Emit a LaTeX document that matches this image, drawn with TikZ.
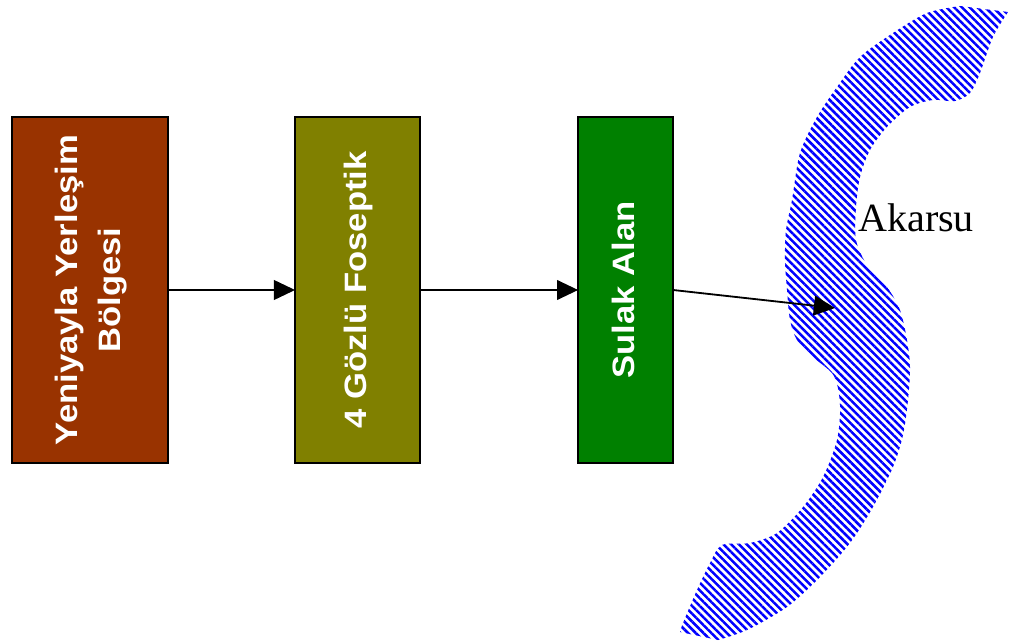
\documentclass[tikz,border=0pt]{standalone}
\usepackage{fontspec}
\setmainfont{Liberation Serif}
\newfontfamily\arialfont{Liberation Sans}
\usepackage{graphicx}
\usetikzlibrary{arrows.meta, positioning, patterns.meta}
\definecolor{boxbrown}{RGB}{153,51,0}
\definecolor{boxolive}{RGB}{128,128,0}
\definecolor{boxgreen}{RGB}{0,128,0}
% rotated, stretched label for the boxes
\newcommand{\vtext}[1]{\rotatebox{90}{\scalebox{1.12}[1]{\arialfont\bfseries\fontsize{22pt}{30.5pt}\selectfont\begin{tabular}{@{}c@{}}#1\end{tabular}}}}

\begin{document}
\begin{tikzpicture}[
	  x=0.025cm, y=-0.025cm,
	  box_style/.style={
	  	rectangle,
	  	draw=black,
	  	line width=1pt,
	  	minimum height=8.65cm,
	  	inner sep=0pt,
	  	outer sep=0pt,
	  	text=white
	  },
	  flow_arrow/.style={
	  	-{Triangle[length=15pt,width=14pt]},
	  	line width=1.3pt
	  },
	  river_style/.style={
	  	pattern={Lines[angle=-45,distance=3.9pt,line width=1.8pt]},
	  	pattern color=blue
	  }]
	\useasboundingbox (0,0) rectangle (1015,643);

	% River
	\fill[river_style]
		plot[smooth] coordinates {(1008,12) (993,37) (980,73) (970,93) (955,101) (933,100) (910,107) (887,127) (870,150) (860,177) (856,207) (856,240) (867,265) (887,287) (900,310) (907,340) (910,367) (908,400) (903,435) (893,467) (873,507) (850,543) (820,577) (787,607) (747,630) (718,640)}
		-- plot[smooth] coordinates {(680,632) (683,623) (697,590) (710,563) (722,545) (750,543) (777,533) (803,507) (823,477) (837,440) (840,405) (834,376) (813,357) (797,340) (790,320) (787,290) (785,260) (786,230) (792,200) (800,153) (817,117) (837,87) (860,57) (893,33) (927,13) (960,6)}
		-- cycle;
	\node[anchor=base west, font=\fontsize{28.5pt}{33pt}\selectfont, inner sep=0pt] (akarsu) at (858,232) {Akarsu};
	\coordinate (inlet) at (835,308);

	% Boxes
	\node[box_style, fill=boxbrown, minimum width=3.9cm] (yerlesim) at (90,290) {\vtext{Yeniyayla Yerleşim\\Bölgesi}};
	\node[box_style, fill=boxolive, minimum width=3.125cm, right=3.175cm of yerlesim] (foseptik) {\vtext{4 Gözlü Foseptik}};
	\node[box_style, fill=boxgreen, minimum width=2.375cm, right=3.95cm of foseptik] (sulak) {\vtext{Sulak Alan}};

	% Flow
	\draw[flow_arrow] (yerlesim) -- (foseptik);
	\draw[flow_arrow] (foseptik) -- (sulak);
	\draw[flow_arrow] (sulak.east) -- (inlet);
\end{tikzpicture}
\end{document}
